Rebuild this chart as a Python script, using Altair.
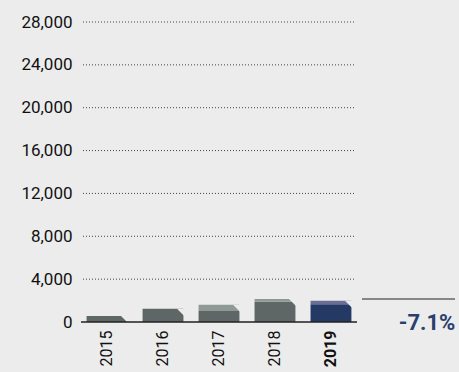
import altair as alt
import pandas as pd

years = ["2015", "2016", "2017", "2018", "2019"]
base_vals = [560, 1240, 1030, 1900, 1650]
top_vals = [0, 0, 590, 250, 340]
base_colors = ["#5e6765", "#5e6765", "#5e6765", "#5e6765", "#243a65"]
top_colors = ["#8f9a97", "#8f9a97", "#8f9a97", "#8f9a97", "#6b6e94"]
change_label = ["-7.1%"]
y_ticks = [0, 4000, 8000, 12000, 16000, 20000, 24000, 28000]

BG = "#ececec"
rows = []
for y, b, t, cb, ct in zip(years, base_vals, top_vals, base_colors, top_colors):
    rows.append({"year": y, "y0": 0, "y1": b, "color": cb, "total": b + t})
    rows.append({"year": y, "y0": b, "y1": b + t, "color": ct, "total": b + t})
df = pd.DataFrame(rows)
tot = pd.DataFrame({"year": years, "total": [b + t for b, t in zip(base_vals, top_vals)]})

xscale = alt.Scale(domain=years, paddingInner=0.27, paddingOuter=0.064)
yscale = alt.Scale(domain=[0, 28000], nice=False)

x = alt.X("year:N", scale=xscale, sort=years, axis=alt.Axis(
    title=None, domain=False, ticks=False, labelAngle=270, labelAlign="right",
    labelBaseline="middle", labelPadding=8, labelFont="Roboto", labelFontSize=16,
    labelColor="#111111",
    labelFontWeight=alt.condition("datum.value == '2019'", alt.value("bold"), alt.value("normal"))))

grid = alt.Chart(pd.DataFrame({"v": y_ticks[1:]})).mark_rule(
    color="#444444", strokeDash=[1, 2], strokeWidth=1
).encode(y=alt.Y("v:Q", scale=yscale, axis=alt.Axis(
    title=None, values=y_ticks, format=",d", domain=False, ticks=False, grid=False,
    labelPadding=11, labelFont="Roboto", labelFontSize=17, labelColor="#111111")),
    x=alt.value(0), x2=alt.value(272))

bars = alt.Chart(df).mark_bar().encode(
    x=x,
    y=alt.Y("y0:Q", scale=yscale),
    y2="y1:Q",
    color=alt.Color("color:N", scale=None),
)

cut = alt.Chart(tot).mark_point(
    shape="M-1,-1L1,-1L1,1Z", size=49, filled=True, color=BG, opacity=1,
    xOffset=17.5, yOffset=3.5, strokeWidth=0
).encode(x=alt.X("year:N", scale=xscale, sort=years), y=alt.Y("total:Q", scale=yscale))

zero = alt.Chart(pd.DataFrame({"v": [0]})).mark_rule(color="#222222", strokeWidth=1.5).encode(
    y=alt.Y("v:Q", scale=yscale), x=alt.value(-2), x2=alt.value(274))

side_line = alt.Chart(pd.DataFrame({"v": [0]})).mark_rule(color="#222222", strokeWidth=1).encode(
    y=alt.value(277), x=alt.value(279), x2=alt.value(372))

side_text = alt.Chart(pd.DataFrame({"t": change_label})).mark_text(
    font="Roboto", fontSize=22, fontWeight="bold", color="#2a3f6e", align="center", baseline="alphabetic"
).encode(text="t:N", x=alt.value(344), y=alt.value(308))

chart = alt.layer(grid, bars, cut, zero, side_line, side_text).properties(
    width=272, height=300,
    autosize=alt.AutoSizeParams(type="none"),
    padding={"left": 83, "top": 22, "right": 104, "bottom": 50},
    background=BG,
).configure_view(stroke=None).configure_axis(labelOverlap=False)

chart.save("out.html", embed_options={"renderer": "svg", "actions": False})
